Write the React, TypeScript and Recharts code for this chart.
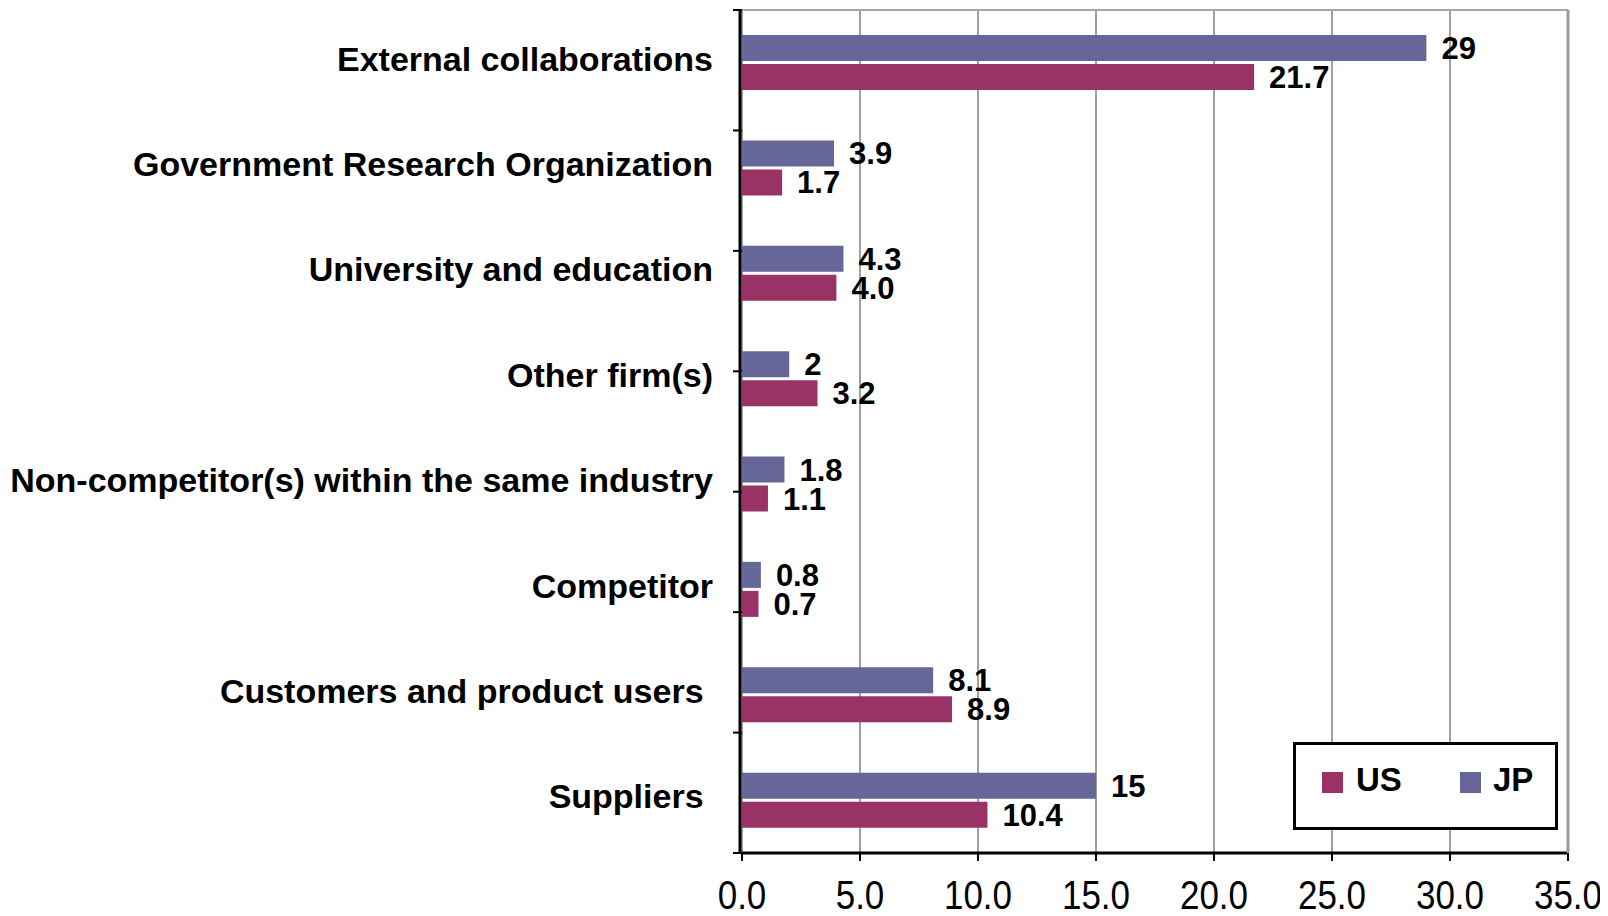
import React from 'react';
import {
  BarChart,
  Bar,
  XAxis,
  YAxis,
  CartesianGrid,
  Legend,
  LabelList,
} from 'recharts';

const categories = [
  'External collaborations',
  'Government Research Organization',
  'University and education',
  'Other firm(s)',
  'Non-competitor(s) within the same industry',
  'Competitor',
  'Customers and product users\u00A0',
  'Suppliers\u00A0',
];

const jpValues = [29, 3.9, 4.3, 2, 1.8, 0.8, 8.1, 15];
const usValues = [21.7, 1.7, 4.0, 3.2, 1.1, 0.7, 8.9, 10.4];
const jpLabels = ['29', '3.9', '4.3', '2', '1.8', '0.8', '8.1', '15'];
const usLabels = ['21.7', '1.7', '4.0', '3.2', '1.1', '0.7', '8.9', '10.4'];

const xTicks = [0, 5, 10, 15, 20, 25, 30, 35];

const series = [
  { key: 'us', name: 'US', color: '#993366' },
  { key: 'jp', name: 'JP', color: '#666699' },
];

const data = categories.map((name, i) => ({
  name,
  jp: jpValues[i],
  us: usValues[i],
  jpLabel: jpLabels[i],
  usLabel: usLabels[i],
}));

// band boundaries, where Excel puts the category tick marks
const bandTicks = [...categories.map((_, i) => i), categories.length];

const FONT = '"Liberation Sans", Arial, sans-serif';

const CategoryTick = ({ x, y, payload }: any) => (
  <text
    x={x}
    y={y}
    dy={8}
    textAnchor="end"
    fontFamily={FONT}
    fontWeight="bold"
    fontSize={34}
    fill="#000"
  >
    {payload.value}
  </text>
);

const ValueTick = ({ x, y, payload }: any) => (
  <g transform={`translate(${x},${y})`}>
    <text
      transform="scale(1,1.15)"
      y={40}
      textAnchor="middle"
      fontFamily={FONT}
      fontSize={35}
      fill="#000"
    >
      {Number(payload.value).toFixed(1)}
    </text>
  </g>
);

const NoLabel = () => <g />;

const LegendBox = () => (
  <div
    style={{
      position: 'relative',
      width: 265,
      height: 88,
      border: '3px solid #000',
      boxSizing: 'border-box',
      background: '#fff',
      fontFamily: FONT,
      fontWeight: 'bold',
      fontSize: 33,
    }}
  >
    {series.map((s, i) => (
      <React.Fragment key={s.key}>
        <div
          style={{
            position: 'absolute',
            left: 26 + i * 138,
            top: 27,
            width: 21,
            height: 21,
            background: s.color,
          }}
        />
        <div style={{ position: 'absolute', left: 60 + i * 137, top: 15, lineHeight: '40px' }}>
          {s.name}
        </div>
      </React.Fragment>
    ))}
  </div>
);

const labelStyle = { fontFamily: FONT, fontWeight: 'bold', fontSize: 31, fill: '#000' };

export default function App() {
  return (
    <div style={{ width: 1600, height: 908, background: '#fff' }}>
      <BarChart
        width={1600}
        height={908}
        data={data}
        layout="vertical"
        margin={{ top: 0, right: 38, bottom: 4, left: 0 }}
        barSize={26}
        barGap={3}
      >
        <CartesianGrid horizontal={false} stroke="#a0a0a0" strokeWidth={2} />
        <XAxis
          type="number"
          domain={[0, 35]}
          ticks={xTicks}
          interval={0}
          height={59}
          tickSize={8}
          tickMargin={2}
          axisLine={{ stroke: '#000', strokeWidth: 3 }}
          tickLine={{ stroke: '#000', strokeWidth: 2 }}
          tick={<ValueTick />}
        />
        <XAxis
          xAxisId="top"
          orientation="top"
          type="number"
          domain={[0, 35]}
          ticks={[0, 35]}
          height={2}
          tick={<NoLabel />}
          tickLine={false}
          axisLine={{ stroke: '#a6a6a6', strokeWidth: 2 }}
        />
        <YAxis
          yAxisId={0}
          type="number"
          domain={[0, categories.length]}
          ticks={bandTicks}
          interval={0}
          width={2}
          tick={<NoLabel />}
          tickSize={9}
          axisLine={false}
          tickLine={{ stroke: '#000', strokeWidth: 2 }}
        />
        <YAxis
          yAxisId="cat"
          type="category"
          dataKey="name"
          width={732}
          interval={0}
          tickSize={6}
          tickMargin={21}
          tickLine={false}
          axisLine={{ stroke: '#000', strokeWidth: 3 }}
          tick={<CategoryTick />}
        />
        <YAxis
          yAxisId="right"
          orientation="right"
          type="number"
          domain={[0, 1]}
          ticks={[0, 1]}
          width={2}
          tick={<NoLabel />}
          tickLine={false}
          axisLine={{ stroke: '#999', strokeWidth: 3 }}
        />
        <Legend
          verticalAlign="middle"
          align="center"
          layout="horizontal"
          content={<LegendBox />}
          wrapperStyle={{ position: 'absolute', left: 1285, top: 734, width: 265, height: 88 }}
        />
        <Bar yAxisId="cat" dataKey="jp" name="JP" fill="#666699" isAnimationActive={false}>
          <LabelList dataKey="jpLabel" position="right" offset={15} style={labelStyle} />
        </Bar>
        <Bar yAxisId="cat" dataKey="us" name="US" fill="#993366" isAnimationActive={false}>
          <LabelList dataKey="usLabel" position="right" offset={15} style={labelStyle} />
        </Bar>
      </BarChart>
    </div>
  );
}
